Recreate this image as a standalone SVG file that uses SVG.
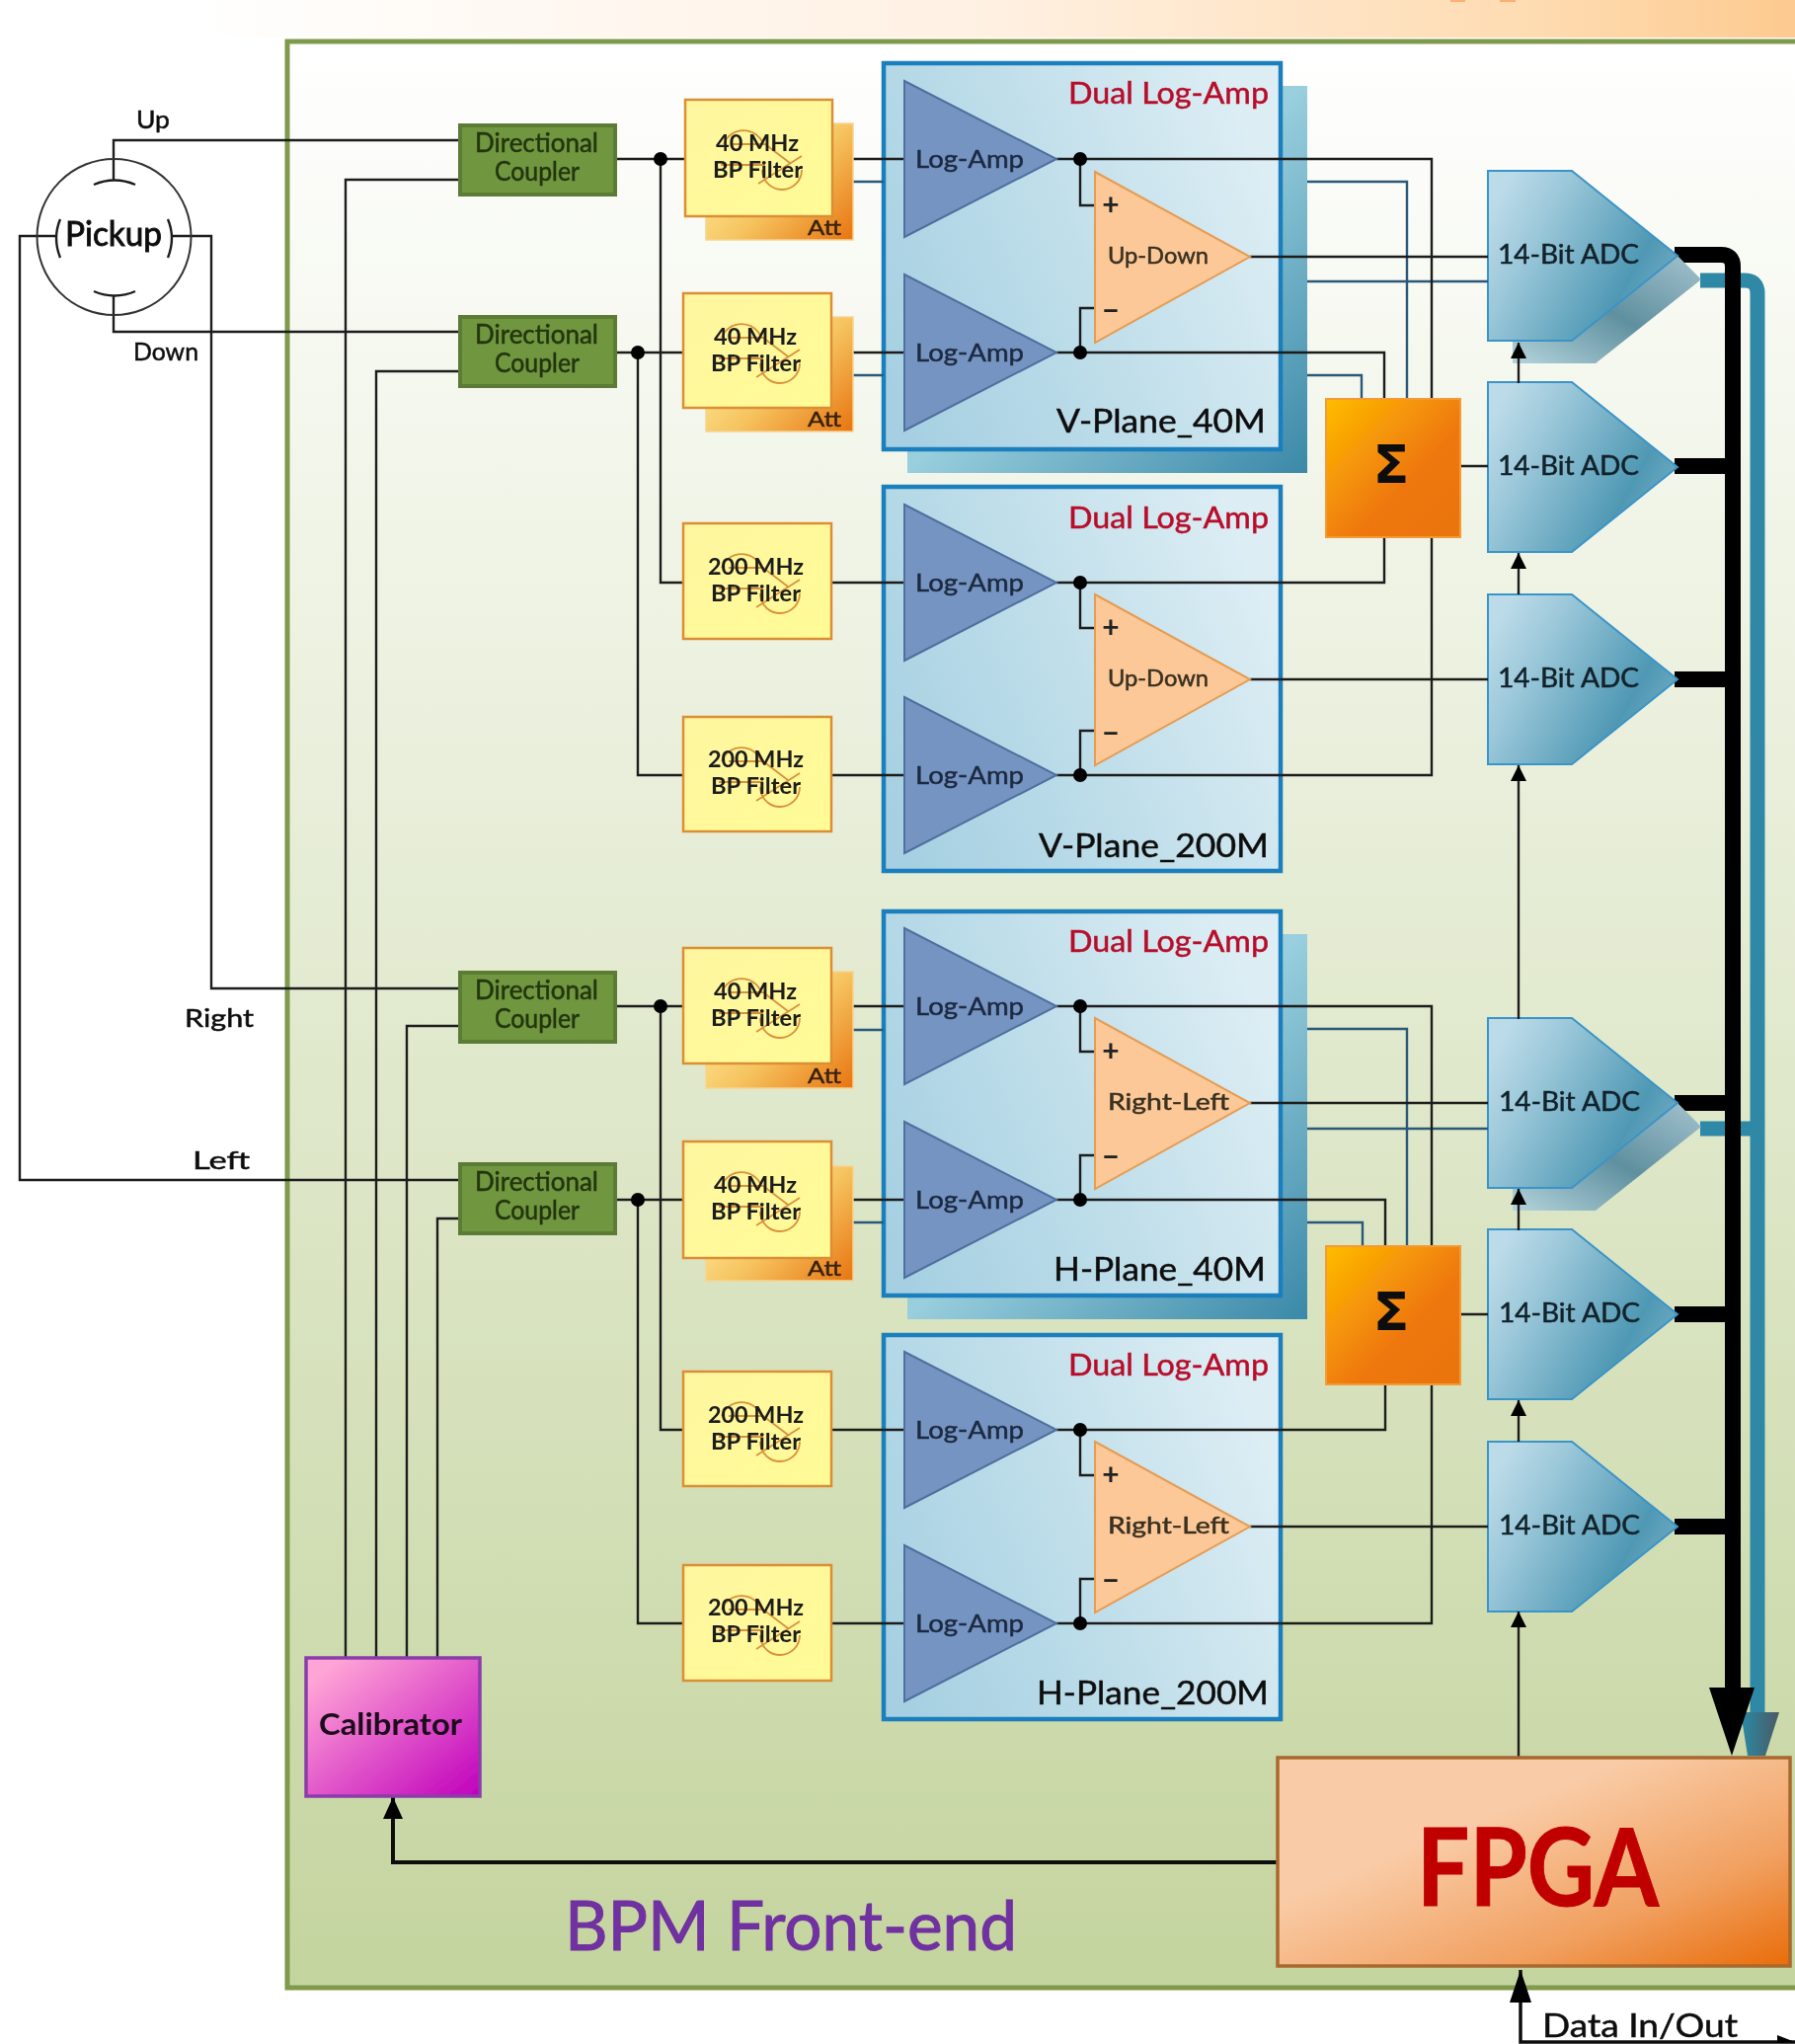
<svg xmlns="http://www.w3.org/2000/svg" xmlns:xlink="http://www.w3.org/1999/xlink" width="1818" height="2070" viewBox="0 0 1818 2070">
<defs>
<style>
text{font-family:"Lato","Noto Sans","Liberation Sans",sans-serif;color:#1c1c1c;fill:currentColor;stroke:currentColor;stroke-width:.5px;}
.ln{fill:none;stroke:#1e1e1e;stroke-width:2.4;}
.bl{fill:none;stroke:#2a5878;stroke-width:2.4;}
.cpl{fill:#6f963f;stroke:#5c7c35;stroke-width:4;}
.flt{fill:url(#gFlt);stroke:#dc8e34;stroke-width:2.5;}
.bck{fill:url(#gBck);stroke:#f6d492;stroke-width:1.5;}
.bp{fill:none;stroke:#d8903a;stroke-width:1.8;}
.box{fill:url(#gBox);stroke:#1f7fbd;stroke-width:4.5;}
.shd{fill:url(#gShd);}
.tri{fill:#7694c1;stroke:#4f6f9f;stroke-width:2;}
.op{fill:#fcc898;stroke:#e69c52;stroke-width:2;}
.adc{fill:url(#gAdc);stroke:#3a94c8;stroke-width:2;}
.sig{fill:url(#gSig);stroke:#f49a34;stroke-width:2;}
.t-c{font-size:26px;color:#24360f;}
.t-f{font-size:22px;font-weight:700;stroke-width:0;}
.t-a{font-size:21px;color:#3a2410;}
.t-l{font-size:25px;color:#1c2a42;}
.t-o{font-size:23px;color:#3a3020;}
.t-d{font-size:30px;color:#b8112c;}
.t-p{font-size:32px;color:#111;}
.t-b{font-size:26px;color:#12232c;}
.t-s{font-size:25px;color:#111;}
.sgn{font-size:30px;font-weight:700;color:#222;stroke-width:0;}
.dot{fill:#000;}
</style>
<linearGradient id="gTop" x1="0" x2="1" y1="0" y2="0"><stop offset="0.1" stop-color="#ffffff"/><stop offset="0.55" stop-color="#fff0e2"/><stop offset="0.85" stop-color="#fedcb2"/><stop offset="1" stop-color="#fdca90"/></linearGradient>
<linearGradient id="gFrm" x1="0" x2="0" y1="0" y2="1"><stop offset="0" stop-color="#ffffff"/><stop offset="1" stop-color="#c4d49e"/></linearGradient>
<linearGradient id="gFlt" x1="0" x2="1" y1="0" y2="1"><stop offset="0" stop-color="#fff6a0"/><stop offset="1" stop-color="#fffb96"/></linearGradient>
<linearGradient id="gBck" x1="0" x2="1" y1="0.2" y2="1"><stop offset="0" stop-color="#fff4a4"/><stop offset="0.5" stop-color="#f6c460"/><stop offset="1" stop-color="#e87410"/></linearGradient>
<linearGradient id="gBox" x1="0" x2="1" y1="0.8" y2="0.4"><stop offset="0" stop-color="#a6d0e2"/><stop offset="0.5" stop-color="#bfdeea"/><stop offset="1" stop-color="#dcedf4"/></linearGradient>
<linearGradient id="gShd" x1="0" x2="1" y1="0" y2="1"><stop offset="0" stop-color="#c0e0ea"/><stop offset="0.5" stop-color="#98cedd"/><stop offset="1" stop-color="#3a88a8"/></linearGradient>
<linearGradient id="gAdc" x1="0" x2="1" y1="0.25" y2="0.75"><stop offset="0" stop-color="#bcdbe8"/><stop offset="0.25" stop-color="#9cc8da"/><stop offset="0.75" stop-color="#4f98b4"/><stop offset="1" stop-color="#78b0c6"/></linearGradient>
<linearGradient id="gAds" x1="0" x2="1" y1="1" y2="0"><stop offset="0" stop-color="#b4d4dc"/><stop offset="0.5" stop-color="#5f909f"/><stop offset="1" stop-color="#a4c2ce"/></linearGradient>
<linearGradient id="gSig" x1="0" x2="1" y1="0" y2="1"><stop offset="0" stop-color="#ffbc00"/><stop offset="0.6" stop-color="#ee780e"/><stop offset="1" stop-color="#ea740c"/></linearGradient>
<linearGradient id="gCal" x1="0" x2="1" y1="0" y2="1"><stop offset="0.1" stop-color="#ffa4d6"/><stop offset="1" stop-color="#c000bc"/></linearGradient>
<linearGradient id="gFpga" x1="0" x2="1" y1="0" y2="1"><stop offset="0.35" stop-color="#f9cba6"/><stop offset="0.72" stop-color="#f1a060"/><stop offset="1" stop-color="#e96c08"/></linearGradient>
<linearGradient id="gHd" x1="0" x2="1" y1="0" y2="0"><stop offset="0" stop-color="#2b8aa6"/><stop offset="1" stop-color="#4a5a64"/></linearGradient>
<marker id="aS" markerUnits="userSpaceOnUse" markerWidth="16" markerHeight="18" refX="16" refY="8" orient="auto"><path d="M0,0L16,8L0,16z" fill="#000"/></marker>
<marker id="aC" markerUnits="userSpaceOnUse" markerWidth="22" markerHeight="22" refX="22" refY="10" orient="auto"><path d="M0,0L22,10L0,20z" fill="#000"/></marker>
<marker id="aD" markerUnits="userSpaceOnUse" markerWidth="34" markerHeight="24" refX="33" refY="11" orient="auto"><path d="M0,0L33,11L0,22z" fill="#000"/></marker>
<g id="sBp"><path class="bp" d="M733,146A21,20 0 0 1 773,146M740,146H775L800,165M812,158L768,186M730,167H775M772,172A20,20 0 0 0 812,172"/></g>
<polygon id="sTri" class="tri" points="916,82 1070,161 916,240"/>
<polygon id="sOp" class="op" points="1109,174 1266,260 1109,347"/>
<polygon id="sAdc" class="adc" points="1507,173 1592,173 1699,259 1592,345 1507,345"/>
<filter id="soft" x="0" y="0" width="100%" height="100%"><feGaussianBlur stdDeviation="0.6"/></filter>
</defs>
<g filter="url(#soft)">
<rect width="1818" height="2070" fill="#ffffff"/>
<g id="frame">
<rect x="0" y="0" width="1818" height="38" fill="url(#gTop)"/>
<rect x="1469" y="0" width="15" height="2" fill="#fdae70"/><rect x="1519" y="0" width="16" height="2" fill="#fdae70"/>
<rect x="291" y="42" width="1540" height="1971" fill="url(#gFrm)" stroke="#7f9a4c" stroke-width="5"/>
</g>
<g id="buses">
<path d="M1722,284H1767Q1780,284 1780,297V1745" fill="none" stroke="#2f88a6" stroke-width="15"/>
<path d="M1722,1143H1778" fill="none" stroke="#2f88a6" stroke-width="15"/>
<polygon points="1763,1734 1802,1734 1788,1778 1770,1778" fill="url(#gHd)"/>
<path d="M1696,258H1743Q1755,258 1755,270V1715" fill="none" stroke="#000" stroke-width="16"/>
<path d="M1696,472H1755M1696,688H1755M1696,1117H1755M1696,1331H1755M1696,1546H1755" fill="none" stroke="#000" stroke-width="16"/>
<polygon points="1731,1709 1777,1709 1754,1778" fill="#000"/>
</g>
<g id="plane-v40-box"><polygon class="shd" points="919,87 1324,87 1324,479 919,479"/><rect class="box" x="895" y="64" width="402" height="391"/></g>
<g id="plane-v200-box"><rect class="box" x="895" y="493" width="402" height="389"/></g>
<g id="plane-h40-box"><polygon class="shd" points="919,946 1324,946 1324,1336 919,1336"/><rect class="box" x="895" y="923" width="402" height="389"/></g>
<g id="plane-h200-box"><rect class="box" x="895" y="1352" width="402" height="389"/></g>
<g id="adc-shadows">
<polygon points="1699,259 1723,283 1616,368 1532,368 1532,345 1592,345" fill="url(#gAds)"/>
<polygon points="1699,1117 1723,1141 1616,1226 1532,1226 1532,1203 1592,1203" fill="url(#gAds)"/>
</g>
<g id="adc1"><use xlink:href="#sAdc"/><text class="t-b" x="1517" y="267" textLength="143" lengthAdjust="spacingAndGlyphs">14-Bit ADC</text></g>
<g id="adc2"><use xlink:href="#sAdc" y="214"/><text class="t-b" x="1517" y="481" textLength="143" lengthAdjust="spacingAndGlyphs">14-Bit ADC</text></g>
<g id="adc3"><use xlink:href="#sAdc" y="429"/><text class="t-b" x="1517" y="696" textLength="143" lengthAdjust="spacingAndGlyphs">14-Bit ADC</text></g>
<g id="adc4"><use xlink:href="#sAdc" y="858"/><text class="t-b" x="1518" y="1125" textLength="143" lengthAdjust="spacingAndGlyphs">14-Bit ADC</text></g>
<g id="adc5"><use xlink:href="#sAdc" y="1072"/><text class="t-b" x="1518" y="1339" textLength="143" lengthAdjust="spacingAndGlyphs">14-Bit ADC</text></g>
<g id="adc6"><use xlink:href="#sAdc" y="1287"/><text class="t-b" x="1518" y="1554" textLength="143" lengthAdjust="spacingAndGlyphs">14-Bit ADC</text></g>
<g id="connectors">
<path class="ln" d="M465,142H115V182M115,300V336H465"/>
<path class="ln" d="M57,239H20V1195H465M175,239H214V1001H465"/>
<path class="ln" d="M465,182H350V1678M465,376H381V1678M465,1039H412V1678M465,1234H443V1678"/>
<path class="ln" d="M623,161H694M669,161V590H692M623,357H692M646,357V785H692"/>
<path class="ln" d="M623,1019H692M669,1019V1448H692M623,1215H692M646,1215V1644H692"/>
<path class="ln" d="M843,161H916M842,357H916M842,590H916M842,785H916M842,1019H916M842,1215H916M842,1448H916M842,1644H916"/>
<path class="bl" d="M864,184H895M864,380H895M864,1043H895M864,1238H895"/>
<path class="bl" d="M1324,184H1425V404M1324,285H1507M1324,380H1379V404M1324,1042H1425V1262M1324,1143H1507M1324,1238H1380V1262"/>
<path class="ln" d="M1070,161H1450V404M1070,357H1402V404M1402,544V590H1070M1450,544V785H1070"/>
<path class="ln" d="M1070,1019H1450V1262M1070,1215H1403V1262M1403,1402V1448H1070M1450,1402V1644H1070"/>
<path class="ln" d="M1094,161V208H1109M1094,357V312H1109M1094,590V636H1109M1094,785V740H1109M1094,1019V1065H1109M1094,1215V1170H1109M1094,1448V1494H1109M1094,1644V1599H1109"/>
<path class="ln" d="M1266,260H1507M1266,688H1507M1266,1117H1507M1266,1546H1507M1479,472H1507M1480,1331H1507"/>
<path class="ln" d="M1538,388V347" marker-end="url(#aS)"/><path class="ln" d="M1538,602V560" marker-end="url(#aS)"/><path class="ln" d="M1538,1032V775" marker-end="url(#aS)"/><path class="ln" d="M1538,1246V1204" marker-end="url(#aS)"/><path class="ln" d="M1538,1460V1418" marker-end="url(#aS)"/><path class="ln" d="M1538,1779V1632" marker-end="url(#aS)"/>
<path d="M1293,1886H398V1820" fill="none" stroke="#111" stroke-width="4" marker-end="url(#aC)"/>
<path d="M1818,2068H1540V1995" fill="none" stroke="#111" stroke-width="3.5" marker-end="url(#aD)"/>
<polygon points="1800,2061 1818,2068 1800,2069" fill="#000"/>
</g>
<g id="pickup">
<ellipse cx="115.500" cy="240" rx="78" ry="79" fill="none" stroke="#333" stroke-width="2"/>
<path class="ln" d="M95,187Q116,178 137,187M95,295Q116,304 137,295M61,222Q53,241 61,261M170,222Q178,241 170,261"/>
<text x="66" y="249" textLength="98" lengthAdjust="spacingAndGlyphs" style="font-size:34px;color:#111;stroke-width:.9px">Pickup</text>
</g>
<g id="lbl-up"><text class="t-s" x="138" y="130" textLength="34" lengthAdjust="spacingAndGlyphs">Up</text></g>
<g id="lbl-down"><text class="t-s" x="135" y="365" textLength="66" lengthAdjust="spacingAndGlyphs">Down</text></g>
<g id="lbl-right"><text class="t-s" x="187" y="1040" textLength="70" lengthAdjust="spacingAndGlyphs">Right</text></g>
<g id="lbl-left"><text class="t-s" x="195" y="1184" textLength="58" lengthAdjust="spacingAndGlyphs">Left</text></g>
<g id="coupler1"><rect class="cpl" x="466" y="127" width="157" height="70"/><text class="t-c" x="481" y="154" textLength="125" lengthAdjust="spacingAndGlyphs">Directional</text><text class="t-c" x="501" y="183" textLength="86" lengthAdjust="spacingAndGlyphs">Coupler</text></g>
<g id="coupler2"><rect class="cpl" x="466" y="321" width="157" height="70"/><text class="t-c" x="481" y="348" textLength="125" lengthAdjust="spacingAndGlyphs">Directional</text><text class="t-c" x="501" y="377" textLength="86" lengthAdjust="spacingAndGlyphs">Coupler</text></g>
<g id="coupler3"><rect class="cpl" x="466" y="985" width="157" height="70"/><text class="t-c" x="481" y="1012" textLength="125" lengthAdjust="spacingAndGlyphs">Directional</text><text class="t-c" x="501" y="1041" textLength="86" lengthAdjust="spacingAndGlyphs">Coupler</text></g>
<g id="coupler4"><rect class="cpl" x="466" y="1179" width="157" height="70"/><text class="t-c" x="481" y="1206" textLength="125" lengthAdjust="spacingAndGlyphs">Directional</text><text class="t-c" x="501" y="1235" textLength="86" lengthAdjust="spacingAndGlyphs">Coupler</text></g>
<g id="junctions" class="dot"><circle cx="669" cy="161" r="7"/><circle cx="646" cy="357" r="7"/><circle cx="669" cy="1019" r="7"/><circle cx="646" cy="1215" r="7"/></g>
<g id="filter1"><rect class="bck" x="715" y="125" width="149" height="118"/><rect class="flt" x="694" y="101" width="149" height="118"/><use xlink:href="#sBp"/><text class="t-f" x="725" y="153" textLength="84" lengthAdjust="spacingAndGlyphs">40 MHz</text><text class="t-f" x="722" y="180" textLength="91" lengthAdjust="spacingAndGlyphs">BP Filter</text><text class="t-a" x="818" y="238" textLength="34" lengthAdjust="spacingAndGlyphs">Att</text></g>
<g id="filter2"><rect class="bck" x="715" y="321" width="149" height="116"/><rect class="flt" x="692" y="297" width="150" height="116"/><use xlink:href="#sBp" x="-2" y="196"/><text class="t-f" x="723" y="349" textLength="84" lengthAdjust="spacingAndGlyphs">40 MHz</text><text class="t-f" x="720" y="376" textLength="91" lengthAdjust="spacingAndGlyphs">BP Filter</text><text class="t-a" x="818" y="432" textLength="34" lengthAdjust="spacingAndGlyphs">Att</text></g>
<g id="filter3"><rect class="flt" x="692" y="530" width="150" height="117"/><use xlink:href="#sBp" x="-2" y="429"/><text class="t-f" x="717" y="582" textLength="97" lengthAdjust="spacingAndGlyphs">200 MHz</text><text class="t-f" x="720" y="609" textLength="91" lengthAdjust="spacingAndGlyphs">BP Filter</text></g>
<g id="filter4"><rect class="flt" x="692" y="726" width="150" height="116"/><use xlink:href="#sBp" x="-2" y="625"/><text class="t-f" x="717" y="777" textLength="97" lengthAdjust="spacingAndGlyphs">200 MHz</text><text class="t-f" x="720" y="804" textLength="91" lengthAdjust="spacingAndGlyphs">BP Filter</text></g>
<g id="filter5"><rect class="bck" x="715" y="984" width="149" height="118"/><rect class="flt" x="692" y="960" width="150" height="117"/><use xlink:href="#sBp" x="-2" y="859"/><text class="t-f" x="723" y="1012" textLength="84" lengthAdjust="spacingAndGlyphs">40 MHz</text><text class="t-f" x="720" y="1039" textLength="91" lengthAdjust="spacingAndGlyphs">BP Filter</text><text class="t-a" x="818" y="1097" textLength="34" lengthAdjust="spacingAndGlyphs">Att</text></g>
<g id="filter6"><rect class="bck" x="715" y="1181" width="149" height="116"/><rect class="flt" x="692" y="1156" width="150" height="118"/><use xlink:href="#sBp" x="-2" y="1055"/><text class="t-f" x="723" y="1208" textLength="84" lengthAdjust="spacingAndGlyphs">40 MHz</text><text class="t-f" x="720" y="1235" textLength="91" lengthAdjust="spacingAndGlyphs">BP Filter</text><text class="t-a" x="818" y="1292" textLength="34" lengthAdjust="spacingAndGlyphs">Att</text></g>
<g id="filter7"><rect class="flt" x="692" y="1389" width="150" height="116"/><use xlink:href="#sBp" x="-2" y="1288"/><text class="t-f" x="717" y="1441" textLength="97" lengthAdjust="spacingAndGlyphs">200 MHz</text><text class="t-f" x="720" y="1468" textLength="91" lengthAdjust="spacingAndGlyphs">BP Filter</text></g>
<g id="filter8"><rect class="flt" x="692" y="1585" width="150" height="117"/><use xlink:href="#sBp" x="-2" y="1484"/><text class="t-f" x="717" y="1636" textLength="97" lengthAdjust="spacingAndGlyphs">200 MHz</text><text class="t-f" x="720" y="1663" textLength="91" lengthAdjust="spacingAndGlyphs">BP Filter</text></g>
<g id="v40">
<text class="t-d" x="1082" y="105" textLength="203" lengthAdjust="spacingAndGlyphs">Dual Log-Amp</text>
<use xlink:href="#sTri"/><use xlink:href="#sTri" y="196"/><use xlink:href="#sOp"/>
<circle class="dot" cx="1094" cy="161" r="7"/><circle class="dot" cx="1094" cy="357" r="7"/>
<text class="t-l" x="927" y="170" textLength="110" lengthAdjust="spacingAndGlyphs">Log-Amp</text><text class="t-l" x="927" y="366" textLength="110" lengthAdjust="spacingAndGlyphs">Log-Amp</text>
<text class="sgn" x="1125" y="218" text-anchor="middle">+</text><text class="sgn" x="1125" y="325" text-anchor="middle">−</text>
<text class="t-o" x="1122" y="267" textLength="102" lengthAdjust="spacingAndGlyphs">Up-Down</text>
<text class="t-p" x="1070" y="438" textLength="212" lengthAdjust="spacingAndGlyphs">V-Plane_40M</text>
</g>
<g id="v200">
<text class="t-d" x="1082" y="535" textLength="203" lengthAdjust="spacingAndGlyphs">Dual Log-Amp</text>
<use xlink:href="#sTri" y="429"/><use xlink:href="#sTri" y="624"/><use xlink:href="#sOp" y="428"/>
<circle class="dot" cx="1094" cy="590" r="7"/><circle class="dot" cx="1094" cy="785" r="7"/>
<text class="t-l" x="927" y="599" textLength="110" lengthAdjust="spacingAndGlyphs">Log-Amp</text><text class="t-l" x="927" y="794" textLength="110" lengthAdjust="spacingAndGlyphs">Log-Amp</text>
<text class="sgn" x="1125" y="646" text-anchor="middle">+</text><text class="sgn" x="1125" y="753" text-anchor="middle">−</text>
<text class="t-o" x="1122" y="695" textLength="102" lengthAdjust="spacingAndGlyphs">Up-Down</text>
<text class="t-p" x="1052" y="868" textLength="233" lengthAdjust="spacingAndGlyphs">V-Plane_200M</text>
</g>
<g id="h40">
<text class="t-d" x="1082" y="964" textLength="203" lengthAdjust="spacingAndGlyphs">Dual Log-Amp</text>
<use xlink:href="#sTri" y="858"/><use xlink:href="#sTri" y="1054"/><use xlink:href="#sOp" y="857"/>
<circle class="dot" cx="1094" cy="1019" r="7"/><circle class="dot" cx="1094" cy="1215" r="7"/>
<text class="t-l" x="927" y="1028" textLength="110" lengthAdjust="spacingAndGlyphs">Log-Amp</text><text class="t-l" x="927" y="1224" textLength="110" lengthAdjust="spacingAndGlyphs">Log-Amp</text>
<text class="sgn" x="1125" y="1075" text-anchor="middle">+</text><text class="sgn" x="1125" y="1182" text-anchor="middle">−</text>
<text class="t-o" x="1122" y="1124" textLength="123" lengthAdjust="spacingAndGlyphs">Right-Left</text>
<text class="t-p" x="1067" y="1297" textLength="215" lengthAdjust="spacingAndGlyphs">H-Plane_40M</text>
</g>
<g id="h200">
<text class="t-d" x="1082" y="1393" textLength="203" lengthAdjust="spacingAndGlyphs">Dual Log-Amp</text>
<use xlink:href="#sTri" y="1287"/><use xlink:href="#sTri" y="1483"/><use xlink:href="#sOp" y="1286"/>
<circle class="dot" cx="1094" cy="1448" r="7"/><circle class="dot" cx="1094" cy="1644" r="7"/>
<text class="t-l" x="927" y="1457" textLength="110" lengthAdjust="spacingAndGlyphs">Log-Amp</text><text class="t-l" x="927" y="1653" textLength="110" lengthAdjust="spacingAndGlyphs">Log-Amp</text>
<text class="sgn" x="1125" y="1504" text-anchor="middle">+</text><text class="sgn" x="1125" y="1611" text-anchor="middle">−</text>
<text class="t-o" x="1122" y="1553" textLength="123" lengthAdjust="spacingAndGlyphs">Right-Left</text>
<text class="t-p" x="1050" y="1726" textLength="235" lengthAdjust="spacingAndGlyphs">H-Plane_200M</text>
</g>
<g id="sigma1"><rect class="sig" x="1343" y="404" width="136" height="140"/><text x="1409" y="489" text-anchor="middle" style="font-size:54px;font-weight:700;font-family:'DejaVu Sans',sans-serif;color:#111;stroke-width:0">Σ</text></g>
<g id="sigma2"><rect class="sig" x="1343" y="1262" width="136" height="140"/><text x="1409" y="1347" text-anchor="middle" style="font-size:54px;font-weight:700;font-family:'DejaVu Sans',sans-serif;color:#111;stroke-width:0">Σ</text></g>
<g id="calibrator"><rect x="310" y="1679" width="176" height="140" fill="url(#gCal)" stroke="#8a3ea8" stroke-width="3.5"/><text x="323" y="1757" textLength="145" lengthAdjust="spacingAndGlyphs" style="font-size:30px;font-weight:700;color:#1a0a1a;stroke-width:0">Calibrator</text></g>
<g id="fpga"><rect x="1294" y="1780" width="519" height="211" fill="url(#gFpga)" stroke="#a9682f" stroke-width="3.5"/><text x="1435" y="1930" textLength="245" lengthAdjust="spacingAndGlyphs" style="font-size:110px;font-weight:700;color:#c00000;stroke-width:1px">FPGA</text></g>
<text x="572" y="1975" textLength="458" lengthAdjust="spacingAndGlyphs" style="font-size:70px;color:#7030a0;stroke-width:1px">BPM Front-end</text>
<text x="1562" y="2063" textLength="198" lengthAdjust="spacingAndGlyphs" style="font-size:32px;color:#111">Data In/Out</text>
</g>
</svg>
